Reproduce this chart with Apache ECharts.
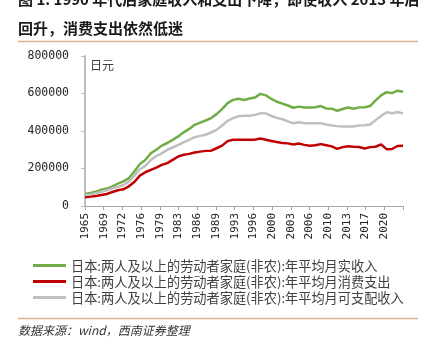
<!DOCTYPE html>
<html>
<head>
<meta charset="utf-8">
<script src="https://cdn.jsdelivr.net/npm/echarts@6/dist/echarts.min.js"></script>
<style>
  html, body { margin: 0; padding: 0; background: #fff; }
  #chart { width: 430px; height: 345px; }
</style>
</head>
<body>
<div id="chart"></div>
<script>
// Survey years, one point per year
const years = [];
for (let y = 1965; y <= 2023; y++) years.push(y);

// 年平均月实收入 (日元)
const actualIncome = [
  64000, 69000, 76000, 87000, 93000, 105000, 119000, 131000, 149000, 184000,
  224000, 245000, 281000, 300000, 322000, 336000, 353000, 371000, 393000, 411000,
  433000, 445000, 456000, 469000, 490000, 517000, 549000, 566000, 572000, 565000,
  573000, 579000, 598000, 590000, 571000, 556000, 546000, 536000, 524000, 530000,
  525000, 525000, 527000, 533000, 520000, 519000, 508000, 517000, 525000, 519000,
  526000, 527000, 533000, 563000, 590000, 607000, 602000, 615000, 609000
];

// 年平均月消费支出 (日元)
const consumption = [
  46000, 50000, 53000, 59000, 64000, 75000, 84000, 89000, 105000, 128000,
  162000, 180000, 193000, 205000, 219000, 229000, 246000, 264000, 273000, 278000,
  285000, 290000, 294000, 295000, 308000, 322000, 346000, 353000, 354000, 354000,
  354000, 354000, 360000, 353000, 347000, 341000, 336000, 334000, 328000, 333000,
  326000, 321000, 324000, 330000, 324000, 318000, 305000, 314000, 319000, 316000,
  315000, 307000, 314000, 316000, 329000, 303000, 304000, 320000, 321000
];

// 年平均月可支配收入 (日元)
const disposable = [
  58000, 62000, 68000, 76000, 84000, 94000, 102000, 112000, 130000, 162000,
  196000, 214000, 245000, 266000, 281000, 299000, 312000, 326000, 340000, 353000,
  367000, 374000, 380000, 392000, 406000, 429000, 454000, 469000, 479000, 481000,
  481000, 486000, 495000, 494000, 480000, 470000, 463000, 451000, 441000, 447000,
  442000, 442000, 442000, 442000, 435000, 429000, 426000, 424000, 424000, 424000,
  430000, 431000, 435000, 458000, 480000, 500000, 495000, 501000, 494000
];

// Bottom axis labels, one per tick (last tick unlabeled)
const xTickLabels = [
  '1965', '1969', '1972', '1976', '1979', '1983', '1986', '1989', '1993',
  '1996', '2000', '2003', '2006', '2010', '2013', '2017', '2020', ''
];

const seriesNames = [
  '日本:两人及以上的劳动者家庭(非农):年平均月实收入',
  '日本:两人及以上的劳动者家庭(非农):年平均月消费支出',
  '日本:两人及以上的劳动者家庭(非农):年平均月可支配收入'
];
const seriesColors = ['#70ad47', '#c00000', '#bfbfbf'];
const seriesValues = [actualIncome, consumption, disposable];

const span = years[years.length - 1] - years[0];
const tickStep = span / (xTickLabels.length - 1);

const CJK = '"Noto Sans CJK SC", "Noto Sans", sans-serif';
const MONO = '"DejaVu Sans Mono", monospace';
const RULE = '#d9b48c';

const chart = echarts.init(document.getElementById('chart'), null, { renderer: 'canvas' });

chart.setOption({
  animation: false,
  backgroundColor: '#ffffff',
  title: {
    text: '图 1: 1990 年代后家庭收入和支出下降，即使收入 2013 年后\n回升，消费支出依然低迷',
    left: 18,
    top: -15,
    padding: 0,
    textStyle: {
      fontFamily: CJK,
      fontSize: 15,
      fontWeight: 'bold',
      color: '#1a1a1a',
      lineHeight: 29
    }
  },
  graphic: [
    { type: 'line', shape: { x1: 18, y1: 41.5, x2: 418, y2: 41.5 }, style: { stroke: RULE, lineWidth: 1.5 } },
    { type: 'line', shape: { x1: 18, y1: 318.5, x2: 418, y2: 318.5 }, style: { stroke: RULE, lineWidth: 1.5 } },
    {
      type: 'text', left: 90, top: 59,
      style: { text: '日元', font: '12px ' + CJK, fill: '#404040' }
    },
    {
      type: 'text', left: 18, top: 324,
      style: { text: '数据来源：wind，西南证券整理', font: 'italic 12px ' + CJK, fill: '#333333' }
    }
  ],
  legend: {
    orient: 'vertical',
    left: 33,
    top: 254.5,
    padding: [3, 5, 3, 0],
    itemWidth: 33,
    itemHeight: 3,
    itemGap: 0,
    itemTextGap: 4,
    icon: 'rect',
    data: seriesNames,
    textStyle: { fontFamily: CJK, fontSize: 13.2, color: '#404040', lineHeight: 16 }
  },
  grid: { left: 85, right: 27, top: 56, bottom: 139 },
  xAxis: {
    type: 'value',
    min: 0,
    max: span,
    interval: tickStep,
    axisLine: { show: true, lineStyle: { color: '#a6a6a6', width: 1 } },
    axisTick: { show: true, length: 4, lineStyle: { color: '#a6a6a6' } },
    splitLine: { show: false },
    axisLabel: {
      rotate: 90,
      margin: 7,
      fontFamily: MONO,
      fontSize: 11,
      color: '#262626',
      showMaxLabel: true,
      formatter: function (v) {
        const k = Math.round(v / tickStep);
        return xTickLabels[k] || '';
      }
    }
  },
  yAxis: {
    type: 'value',
    min: 0,
    max: 800000,
    interval: 200000,
    axisLine: { show: true, lineStyle: { color: '#bfbfbf', width: 2 } },
    axisTick: { show: true, length: 4, lineStyle: { color: '#bfbfbf', width: 1 } },
    splitLine: { show: false },
    axisLabel: {
      margin: 16, fontFamily: MONO, fontSize: 11.5, color: '#262626',
      formatter: function (v) { return String(v); }
    }
  },
  series: seriesNames.map(function (name, s) {
    return {
      name: name,
      type: 'line',
      showSymbol: false,
      symbol: 'none',
      color: seriesColors[s],
      lineStyle: { color: seriesColors[s], width: 2.5 },
      data: years.map(function (y, i) { return [y - years[0], seriesValues[s][i]]; })
    };
  })
});
</script>
</body>
</html>
